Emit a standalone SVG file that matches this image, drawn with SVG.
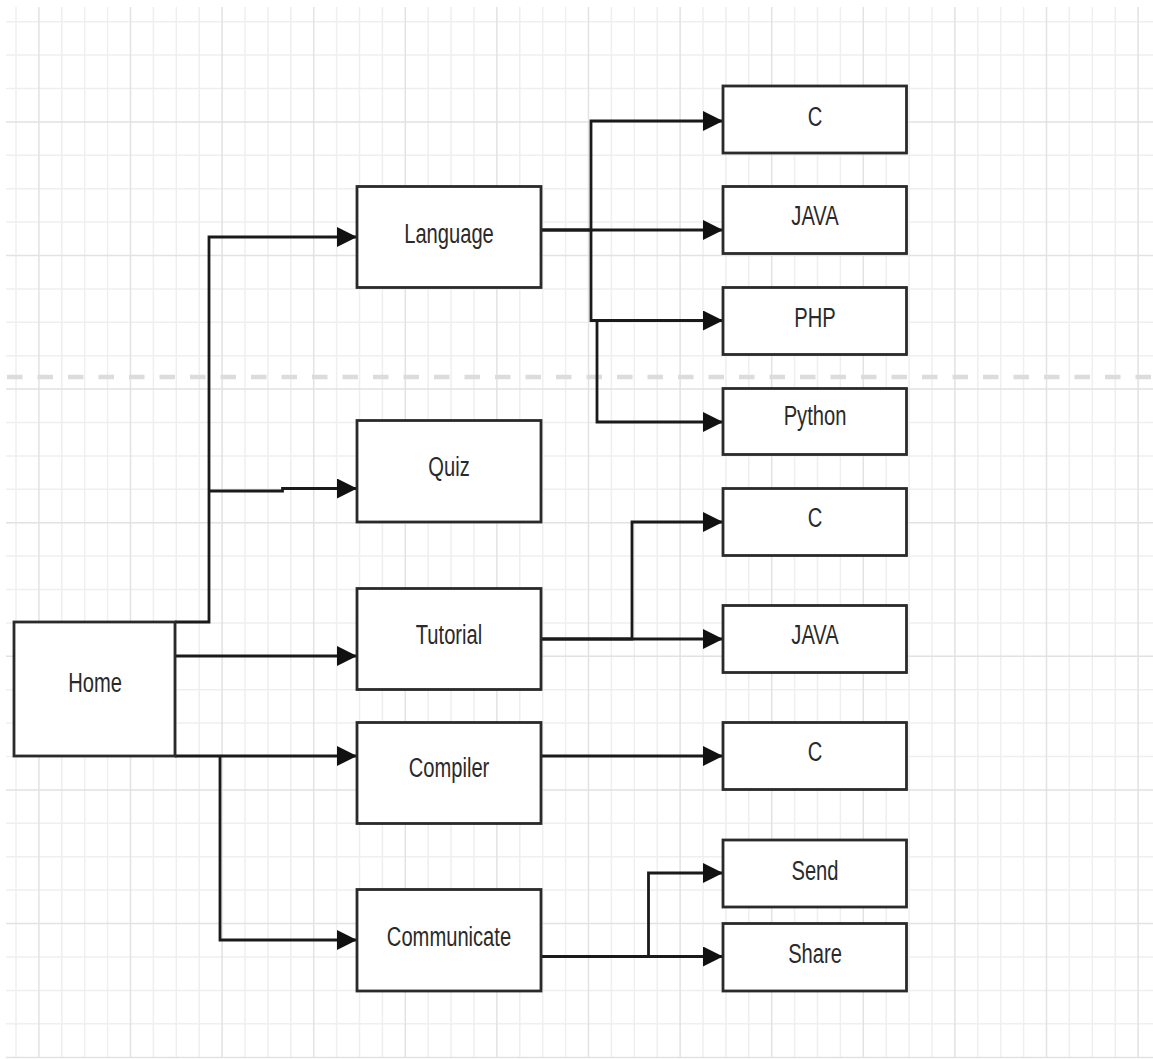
<svg xmlns="http://www.w3.org/2000/svg" width="1153" height="1059" viewBox="0 0 1153 1059">
<style>
.mn{stroke:#efefef;stroke-width:1.5}
.mj{stroke:#e2e2e2;stroke-width:1.5}
.box{fill:#fff;stroke:#2a2a2a;stroke-width:2.8}
.lbl{font-family:"Liberation Sans",Arial,sans-serif;font-size:28px;fill:#2a2a2a;text-anchor:middle}
.con{fill:none;stroke:#1a1a1a;stroke-width:2.8;marker-end:url(#ah)}
</style>
<defs>
<marker id="ah" markerUnits="userSpaceOnUse" markerWidth="20" markerHeight="20" viewBox="0 0 20 20" refX="20" refY="10" orient="auto">
<path d="M0,0 L20,10 L0,20 z" fill="#111"/>
</marker>
</defs>
<rect width="1153" height="1059" fill="#fff"/>
<g id="grid">
<g class="mn">
<line x1="16" y1="7" x2="16" y2="1058"/><line x1="61.8" y1="7" x2="61.8" y2="1058"/><line x1="84.7" y1="7" x2="84.7" y2="1058"/><line x1="107.6" y1="7" x2="107.6" y2="1058"/>
<line x1="153.4" y1="7" x2="153.4" y2="1058"/><line x1="176.3" y1="7" x2="176.3" y2="1058"/><line x1="199.2" y1="7" x2="199.2" y2="1058"/>
<line x1="245" y1="7" x2="245" y2="1058"/><line x1="267.9" y1="7" x2="267.9" y2="1058"/><line x1="290.8" y1="7" x2="290.8" y2="1058"/>
<line x1="336.6" y1="7" x2="336.6" y2="1058"/><line x1="359.5" y1="7" x2="359.5" y2="1058"/><line x1="382.4" y1="7" x2="382.4" y2="1058"/>
<line x1="428.2" y1="7" x2="428.2" y2="1058"/><line x1="451.1" y1="7" x2="451.1" y2="1058"/><line x1="474" y1="7" x2="474" y2="1058"/>
<line x1="519.8" y1="7" x2="519.8" y2="1058"/><line x1="542.7" y1="7" x2="542.7" y2="1058"/><line x1="565.6" y1="7" x2="565.6" y2="1058"/>
<line x1="611.4" y1="7" x2="611.4" y2="1058"/><line x1="634.3" y1="7" x2="634.3" y2="1058"/><line x1="657.2" y1="7" x2="657.2" y2="1058"/>
<line x1="703" y1="7" x2="703" y2="1058"/><line x1="725.9" y1="7" x2="725.9" y2="1058"/><line x1="748.8" y1="7" x2="748.8" y2="1058"/>
<line x1="794.6" y1="7" x2="794.6" y2="1058"/><line x1="817.5" y1="7" x2="817.5" y2="1058"/><line x1="840.4" y1="7" x2="840.4" y2="1058"/>
<line x1="886.2" y1="7" x2="886.2" y2="1058"/><line x1="909.1" y1="7" x2="909.1" y2="1058"/><line x1="932" y1="7" x2="932" y2="1058"/>
<line x1="977.8" y1="7" x2="977.8" y2="1058"/><line x1="1000.7" y1="7" x2="1000.7" y2="1058"/><line x1="1023.6" y1="7" x2="1023.6" y2="1058"/>
<line x1="1069.4" y1="7" x2="1069.4" y2="1058"/><line x1="1092.3" y1="7" x2="1092.3" y2="1058"/><line x1="1115.2" y1="7" x2="1115.2" y2="1058"/>
<line x1="6" y1="21.7" x2="1153" y2="21.7"/><line x1="6" y1="55.1" x2="1153" y2="55.1"/><line x1="6" y1="88.5" x2="1153" y2="88.5"/>
<line x1="6" y1="155.3" x2="1153" y2="155.3"/><line x1="6" y1="188.7" x2="1153" y2="188.7"/><line x1="6" y1="222.1" x2="1153" y2="222.1"/>
<line x1="6" y1="288.9" x2="1153" y2="288.9"/><line x1="6" y1="322.3" x2="1153" y2="322.3"/><line x1="6" y1="355.7" x2="1153" y2="355.7"/>
<line x1="6" y1="422.5" x2="1153" y2="422.5"/><line x1="6" y1="455.9" x2="1153" y2="455.9"/><line x1="6" y1="489.3" x2="1153" y2="489.3"/>
<line x1="6" y1="556.1" x2="1153" y2="556.1"/><line x1="6" y1="589.5" x2="1153" y2="589.5"/><line x1="6" y1="622.9" x2="1153" y2="622.9"/>
<line x1="6" y1="689.7" x2="1153" y2="689.7"/><line x1="6" y1="723.1" x2="1153" y2="723.1"/><line x1="6" y1="756.5" x2="1153" y2="756.5"/>
<line x1="6" y1="823.3" x2="1153" y2="823.3"/><line x1="6" y1="856.7" x2="1153" y2="856.7"/><line x1="6" y1="890.1" x2="1153" y2="890.1"/>
<line x1="6" y1="957" x2="1153" y2="957"/><line x1="6" y1="990.4" x2="1153" y2="990.4"/><line x1="6" y1="1023.8" x2="1153" y2="1023.8"/>
</g>
<g class="mj">
<line x1="38.9" y1="7" x2="38.9" y2="1058"/><line x1="130.5" y1="7" x2="130.5" y2="1058"/><line x1="222.1" y1="7" x2="222.1" y2="1058"/>
<line x1="313.7" y1="7" x2="313.7" y2="1058"/><line x1="405.3" y1="7" x2="405.3" y2="1058"/><line x1="496.9" y1="7" x2="496.9" y2="1058"/>
<line x1="588.5" y1="7" x2="588.5" y2="1058"/><line x1="680.1" y1="7" x2="680.1" y2="1058"/><line x1="771.7" y1="7" x2="771.7" y2="1058"/>
<line x1="863.3" y1="7" x2="863.3" y2="1058"/><line x1="954.9" y1="7" x2="954.9" y2="1058"/><line x1="1046.5" y1="7" x2="1046.5" y2="1058"/>
<line x1="1138.1" y1="7" x2="1138.1" y2="1058"/>
<line x1="6" y1="121.9" x2="1153" y2="121.9"/><line x1="6" y1="255.5" x2="1153" y2="255.5"/><line x1="6" y1="389.1" x2="1153" y2="389.1"/>
<line x1="6" y1="522.7" x2="1153" y2="522.7"/><line x1="6" y1="656.3" x2="1153" y2="656.3"/><line x1="6" y1="789.9" x2="1153" y2="789.9"/>
<line x1="6" y1="923.5" x2="1153" y2="923.5"/><line x1="6" y1="1057.5" x2="1153" y2="1057.5"/>
</g>
<line x1="7" y1="377" x2="1152" y2="377" stroke="#dcdcdc" stroke-width="4.5" stroke-dasharray="15.5 15"/>
</g>
<g id="connectors">
<path class="con" d="M175,622 H209 V237 H357"/>
<path class="con" d="M209,491 H282.5 V488.5 H357"/>
<path class="con" d="M175,656 H357"/>
<path class="con" d="M175,756 H357"/>
<path class="con" d="M220,756 V940 H357"/>
<path class="con" d="M541,230 H591 V121 H723"/>
<path class="con" d="M541,230 H723"/>
<path class="con" d="M591,230 V320.5 H723"/>
<path class="con" d="M597,320.5 V422 H723"/>
<path class="con" d="M541,639 H632 V522 H723"/>
<path class="con" d="M541,639 H723"/>
<path class="con" d="M541,756 H723"/>
<path class="con" d="M541,956.5 H648.5 V873 H723"/>
<path class="con" d="M541,956.5 H723"/>
</g>
<g id="home"><rect class="box" x="14" y="622" width="161" height="134"/><text class="lbl" transform="translate(95,692) scale(0.72,1)">Home</text></g>
<g id="language"><rect class="box" x="357" y="186.5" width="184" height="101"/><text class="lbl" transform="translate(449,243) scale(0.72,1)">Language</text></g>
<g id="quiz"><rect class="box" x="357" y="420.5" width="184" height="101.5"/><text class="lbl" transform="translate(449,476) scale(0.72,1)">Quiz</text></g>
<g id="tutorial"><rect class="box" x="357" y="588.5" width="184" height="101"/><text class="lbl" transform="translate(449,644) scale(0.72,1)">Tutorial</text></g>
<g id="compiler"><rect class="box" x="357" y="722.5" width="184" height="101"/><text class="lbl" transform="translate(449,777) scale(0.72,1)">Compiler</text></g>
<g id="communicate"><rect class="box" x="357" y="889.5" width="184" height="101.5"/><text class="lbl" transform="translate(449,946) scale(0.72,1)">Communicate</text></g>
<g id="lang-c"><rect class="box" x="723" y="86" width="183.5" height="67"/><text class="lbl" transform="translate(815,126) scale(0.72,1)">C</text></g>
<g id="lang-java"><rect class="box" x="723" y="186.5" width="183.5" height="67"/><text class="lbl" transform="translate(815,225) scale(0.72,1)">JAVA</text></g>
<g id="lang-php"><rect class="box" x="723" y="287.5" width="183.5" height="67"/><text class="lbl" transform="translate(815,327) scale(0.72,1)">PHP</text></g>
<g id="lang-python"><rect class="box" x="723" y="388.5" width="183.5" height="66"/><text class="lbl" transform="translate(815,425) scale(0.72,1)">Python</text></g>
<g id="tut-c"><rect class="box" x="723" y="488.5" width="183.5" height="67"/><text class="lbl" transform="translate(815,527) scale(0.72,1)">C</text></g>
<g id="tut-java"><rect class="box" x="723" y="605.5" width="183.5" height="67"/><text class="lbl" transform="translate(815,644) scale(0.72,1)">JAVA</text></g>
<g id="comp-c"><rect class="box" x="723" y="722.5" width="183.5" height="67"/><text class="lbl" transform="translate(815,761) scale(0.72,1)">C</text></g>
<g id="send"><rect class="box" x="723" y="840" width="183.5" height="67"/><text class="lbl" transform="translate(815,880) scale(0.72,1)">Send</text></g>
<g id="share"><rect class="box" x="723" y="923.5" width="183.5" height="67.5"/><text class="lbl" transform="translate(815,963) scale(0.72,1)">Share</text></g>
</svg>
